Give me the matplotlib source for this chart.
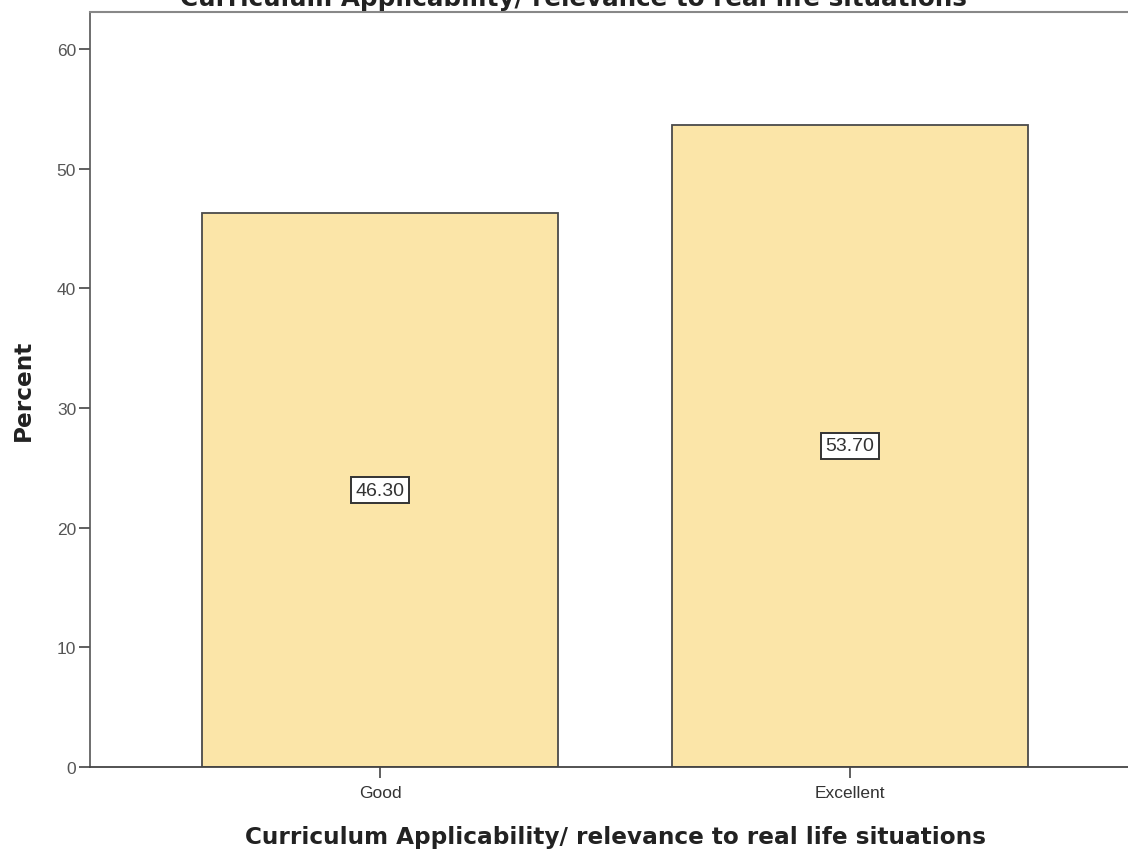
import matplotlib.pyplot as plt

# ---------- Data ----------
categories = ["Good", "Excellent"]
percents = [46.30, 53.70]
value_labels = ["46.30", "53.70"]
y_ticks = [0, 10, 20, 30, 40, 50, 60]

title = "Curriculum Applicability/ relevance to real life situations"

plt.rcParams["font.family"] = ["Liberation Sans", "DejaVu Sans"]

# ---------- Plot ----------
fig = plt.figure(figsize=(11.28, 8.54), dpi=100)
ax = fig.add_axes([0.0798, 0.1007, 0.931, 0.884])

x = range(len(categories))
bars = ax.bar(x, percents, width=0.757, color="#FBE5A8",
              edgecolor="#4a4a4a", linewidth=1.3, zorder=2)

for xi, val, lab in zip(x, percents, value_labels):
    ax.text(xi, val / 2, lab, ha="center", va="center", fontsize=14,
            color="#333333",
            bbox=dict(boxstyle="square,pad=0.22", facecolor="white",
                      edgecolor="#333333", linewidth=1.4))

ax.set_xlim(-0.617, 1.617)
ax.set_ylim(0, 63.1)
ax.set_xticks(list(x))
ax.set_xticklabels(categories, fontsize=12.5, color="#333333")
ax.set_yticks(y_ticks)
ax.set_yticklabels([str(t) for t in y_ticks], fontsize=12.5, color="#555555")
ax.tick_params(axis="both", direction="out", length=8, width=1.2, color="#444444")
ax.tick_params(axis="x", pad=5)
ax.tick_params(axis="y", pad=2)

ax.spines["right"].set_visible(False)
ax.spines["top"].set_color("#888888")
ax.spines["top"].set_linewidth(1.5)
ax.spines["left"].set_color("#555555")
ax.spines["bottom"].set_color("#444444")
ax.spines["left"].set_linewidth(1.2)
ax.spines["bottom"].set_linewidth(1.3)

ax.set_ylabel("Percent", fontsize=16.7, fontweight="bold", color="#222222",
              family="DejaVu Sans", labelpad=16)
ax.set_xlabel(title, fontsize=16.7, fontweight="bold", color="#222222",
              family="DejaVu Sans", labelpad=18)

# title sits mostly above the figure edge, as in the cropped reference
fig.text(0.508, 0.9935, title, ha="center", va="baseline", fontsize=17.7,
         fontweight="bold", color="#222222", family="DejaVu Sans")

fig.savefig("out.png", dpi=100)
